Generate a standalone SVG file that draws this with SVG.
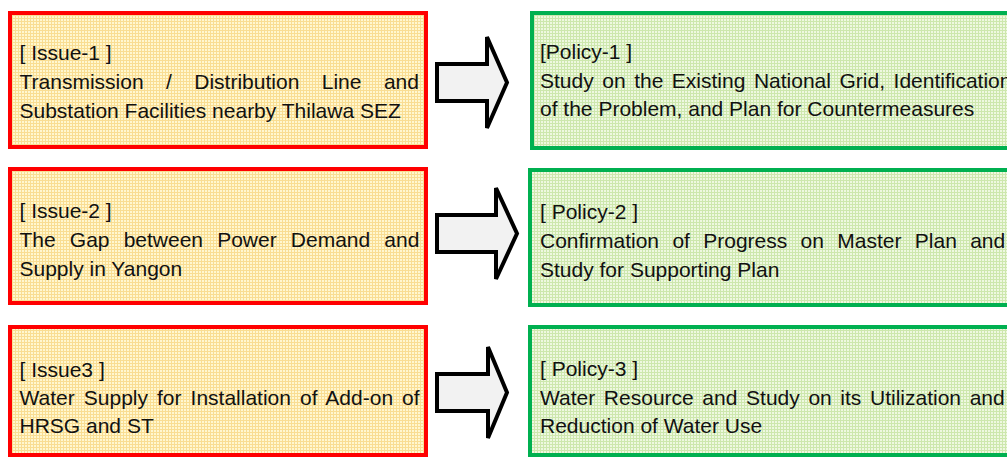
<svg xmlns="http://www.w3.org/2000/svg" width="1007" height="458" viewBox="0 0 1007 458">
<style>
.t{font-family:"Liberation Sans",Arial,sans-serif;font-size:21px;fill:#111}
.issue{fill:url(#py);stroke:#ff0000;stroke-width:4}
.policy{fill:url(#pg);stroke:#00b050;stroke-width:4}
.arrow{fill:#f2f2f2;stroke:#000;stroke-width:4;stroke-linejoin:miter}
</style>
<defs>
<pattern id="py" width="3" height="3" patternUnits="userSpaceOnUse"><rect width="3" height="3" fill="#fff7cf"/><path d="M0 0.5H3M0.5 0V3" stroke="#f9dd92" stroke-width="1"/></pattern>
<pattern id="pg" width="3" height="3" patternUnits="userSpaceOnUse"><rect width="3" height="3" fill="#eef8e0"/><path d="M0 0.5H3M0.5 0V3" stroke="#cde7ad" stroke-width="1"/></pattern>
</defs>
<rect width="1007" height="458" fill="#fff"/>
<g id="issue1">
<rect class="issue" x="10" y="13" width="416" height="134"/>
<text class="t" x="19.5" y="59.5">[ Issue-1 ]</text>
<text class="t" x="19.5" y="89" word-spacing="16.6">Transmission / Distribution Line and</text>
<text class="t" x="19.5" y="118">Substation Facilities nearby Thilawa SEZ</text>
</g>
<g id="issue2">
<rect class="issue" x="10" y="169" width="416" height="134"/>
<text class="t" x="19.5" y="218">[ Issue-2 ]</text>
<text class="t" x="19.5" y="247" word-spacing="8.3">The Gap between Power Demand and</text>
<text class="t" x="19.5" y="275.5">Supply in Yangon</text>
</g>
<g id="issue3">
<rect class="issue" x="10" y="327" width="416" height="128"/>
<text class="t" x="19.5" y="377">[ Issue3 ]</text>
<text class="t" x="19.5" y="405" word-spacing="3.2">Water Supply for Installation of Add-on of</text>
<text class="t" x="19.5" y="433">HRSG and ST</text>
</g>
<g id="policy1">
<rect class="policy" x="532" y="13" width="490" height="135"/>
<text class="t" x="540" y="59">[Policy-1 ]</text>
<text class="t" x="540" y="87.5" word-spacing="2.7">Study on the Existing National Grid, Identification</text>
<text class="t" x="540" y="116">of the Problem, and Plan for Countermeasures</text>
</g>
<g id="policy2">
<rect class="policy" x="530" y="170" width="492" height="135"/>
<text class="t" x="540" y="219">[ Policy-2 ]</text>
<text class="t" x="540" y="248" word-spacing="7.5">Confirmation of Progress on Master Plan and</text>
<text class="t" x="540" y="276.5">Study for Supporting Plan</text>
</g>
<g id="policy3">
<rect class="policy" x="530" y="327" width="492" height="128"/>
<text class="t" x="540" y="376">[ Policy-3 ]</text>
<text class="t" x="540" y="405" word-spacing="2.8">Water Resource and Study on its Utilization and</text>
<text class="t" x="540" y="433">Reduction of Water Use</text>
</g>
<g id="connectors">
<path class="arrow" d="M437,64H487V37L507,82.5L487,128V101H437Z"/>
<path class="arrow" d="M437,215H496V188L517,233.5L496,279V252H437Z"/>
<path class="arrow" d="M437,374H488V347L507,392.5L488,438V411H437Z"/>
</g>
</svg>
